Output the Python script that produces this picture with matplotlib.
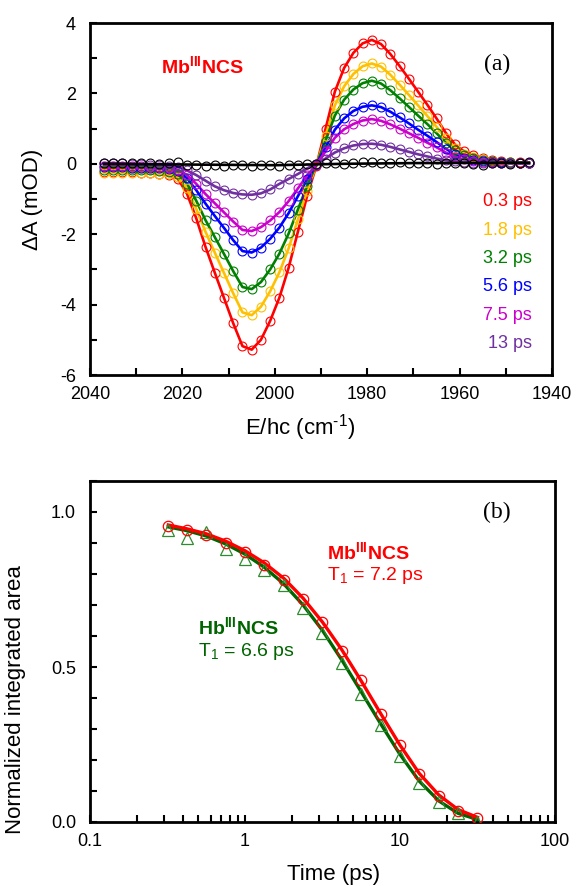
import matplotlib
matplotlib.use('Agg')
import matplotlib.pyplot as plt
from matplotlib.ticker import MultipleLocator, FixedLocator, FixedFormatter, NullFormatter, LogLocator

plt.rcParams['font.family'] = ['Liberation Sans', 'DejaVu Sans']
plt.rcParams['mathtext.fontset'] = 'custom'
plt.rcParams['mathtext.rm'] = 'Liberation Sans'
plt.rcParams['mathtext.it'] = 'Liberation Sans:italic'
plt.rcParams['mathtext.bf'] = 'Liberation Sans:bold'
plt.rcParams['axes.unicode_minus'] = False

# ---------------- Panel (a) data ----------------
wavenumber = [2037, 2035, 2033, 2031, 2029, 2027, 2025, 2023, 2021, 2019, 2017, 2015,
              2013, 2011, 2009, 2007, 2005, 2003, 2001, 1999, 1997, 1995, 1993, 1991,
              1989, 1987, 1985, 1983, 1981, 1979, 1977, 1975, 1973, 1971, 1969, 1967,
              1965, 1963, 1961, 1959, 1957, 1955, 1953, 1951, 1949, 1947, 1945]

dA_0p3 = [-0.22, -0.22, -0.23, -0.24, -0.25, -0.27, -0.29, -0.32, -0.42, -0.85, -1.55, -2.36,
          -3.09, -3.81, -4.53, -5.18, -5.28, -5.00, -4.46, -3.80, -2.95, -1.93, -0.91, -0.05,
          1.00, 2.05, 2.72, 3.15, 3.42, 3.52, 3.40, 3.12, 2.78, 2.42, 2.05, 1.68,
          1.29, 0.88, 0.55, 0.35, 0.24, 0.16, 0.11, 0.07, 0.05, 0.04, 0.03]
dA_1p8 = [-0.25, -0.25, -0.25, -0.25, -0.26, -0.27, -0.28, -0.30, -0.38, -0.70, -1.28, -1.93,
          -2.52, -3.10, -3.68, -4.22, -4.30, -4.06, -3.62, -3.08, -2.40, -1.58, -0.76, -0.04,
          0.80, 1.66, 2.20, 2.55, 2.77, 2.85, 2.76, 2.53, 2.25, 1.96, 1.66, 1.36,
          1.05, 0.72, 0.45, 0.29, 0.20, 0.13, 0.09, 0.06, 0.04, 0.03, 0.03]
dA_3p2 = [-0.17, -0.17, -0.17, -0.18, -0.18, -0.19, -0.20, -0.22, -0.29, -0.56, -1.05, -1.60,
          -2.08, -2.56, -3.05, -3.50, -3.56, -3.36, -3.00, -2.55, -1.98, -1.30, -0.62, -0.03,
          0.66, 1.37, 1.82, 2.11, 2.29, 2.36, 2.28, 2.09, 1.86, 1.62, 1.37, 1.13,
          0.87, 0.60, 0.38, 0.24, 0.16, 0.11, 0.07, 0.05, 0.04, 0.03, 0.02]
dA_5p6 = [-0.10, -0.10, -0.10, -0.11, -0.11, -0.12, -0.13, -0.15, -0.21, -0.41, -0.75, -1.13,
          -1.48, -1.82, -2.17, -2.48, -2.52, -2.38, -2.13, -1.81, -1.40, -0.92, -0.44, -0.02,
          0.47, 0.97, 1.29, 1.50, 1.62, 1.66, 1.61, 1.48, 1.32, 1.15, 0.97, 0.80,
          0.62, 0.43, 0.27, 0.17, 0.11, 0.08, 0.05, 0.04, 0.03, 0.02, 0.02]
dA_7p5 = [-0.06, -0.06, -0.06, -0.07, -0.07, -0.08, -0.10, -0.12, -0.17, -0.32, -0.57, -0.86,
          -1.12, -1.38, -1.64, -1.88, -1.91, -1.80, -1.61, -1.37, -1.06, -0.70, -0.33, -0.02,
          0.36, 0.74, 0.98, 1.13, 1.23, 1.27, 1.22, 1.12, 1.00, 0.87, 0.74, 0.60,
          0.47, 0.32, 0.20, 0.13, 0.09, 0.06, 0.04, 0.03, 0.02, 0.02, 0.01]
dA_13 = [0.02, 0.02, 0.01, 0.00, -0.01, -0.02, -0.04, -0.06, -0.09, -0.19, -0.32, -0.48,
         -0.64, -0.75, -0.83, -0.87, -0.88, -0.84, -0.73, -0.57, -0.43, -0.29, -0.13, 0.00,
         0.15, 0.32, 0.44, 0.52, 0.56, 0.57, 0.54, 0.48, 0.41, 0.34, 0.27, 0.21,
         0.15, 0.10, 0.07, 0.05, 0.03, 0.02, 0.02, 0.01, 0.01, 0.01, 0.01]
dA_late = [0.03, 0.03, 0.02, 0.03, 0.02, 0.01, 0.00, 0.02, 0.04, -0.02, -0.04, -0.05,
           -0.03, -0.06, -0.03, -0.04, -0.06, -0.04, -0.02, -0.05, -0.03, -0.02, 0.00, 0.00,
           0.03, 0.01, -0.01, 0.02, 0.04, 0.05, 0.03, 0.02, 0.04, 0.01, 0.03, 0.02,
           0.00, 0.01, 0.03, 0.02, 0.00, -0.02, 0.03, 0.02, 0.00, 0.03, 0.04]
late_fit_wn = [2037, 2020, 2000, 1985, 1970, 1945]
late_fit = [0.00, -0.02, -0.04, 0.00, 0.02, 0.03]

delay_labels = ['0.3 ps', '1.8 ps', '3.2 ps', '5.6 ps', '7.5 ps', '13 ps']
delay_colors = ['#FF0000', '#FFC000', '#008000', '#0000FF', '#CC00CC', '#7030A0']
spectra = [dA_0p3, dA_1p8, dA_3p2, dA_5p6, dA_7p5, dA_13]

# ---------------- Panel (b) data ----------------
time_ps = [0.32, 0.42, 0.56, 0.75, 1.0, 1.33, 1.78, 2.37, 3.16, 4.22, 5.62, 7.5,
           10.0, 13.3, 17.8, 23.7, 31.6]
mb_area = [0.955, 0.943, 0.926, 0.900, 0.870, 0.830, 0.780, 0.720, 0.645, 0.553, 0.458, 0.348,
           0.247, 0.154, 0.084, 0.036, 0.014]
hb_area = [0.941, 0.915, 0.936, 0.882, 0.848, 0.813, 0.765, 0.690, 0.610, 0.514, 0.412, 0.314,
           0.212, 0.126, 0.065, 0.028, 0.000]
mb_fit = [0.958, 0.946, 0.930, 0.906, 0.875, 0.836, 0.786, 0.722, 0.645, 0.555, 0.455, 0.350,
          0.248, 0.157, 0.087, 0.040, 0.015]
hb_fit = [0.952, 0.940, 0.923, 0.897, 0.864, 0.822, 0.768, 0.700, 0.618, 0.522, 0.420, 0.317,
          0.218, 0.132, 0.068, 0.028, 0.008]

W, H = 576, 886
fig = plt.figure(figsize=(W / 100, H / 100), dpi=100)

def frac(l, t, r, b):
    return [l / W, 1 - b / H, (r - l) / W, (b - t) / H]

# ---------------- Panel (a) ----------------
ax = fig.add_axes(frac(90, 23, 552, 375))
for vals, col in zip(spectra, delay_colors):
    ax.plot(wavenumber, vals, '-', color=col, lw=1.9, zorder=2)
    ax.plot(wavenumber, vals, 'o', mfc='none', mec=col, ms=6.4, mew=0.8, zorder=3)
ax.plot(late_fit_wn, late_fit, '-', color='black', lw=1.9, zorder=4)
ax.plot(wavenumber, dA_late, 'o', mfc='none', mec='black', ms=6.4, mew=0.8, zorder=4)

ax.set_xlim(2040, 1940)
ax.set_ylim(-6, 4)
ax.xaxis.set_major_locator(MultipleLocator(20))
ax.xaxis.set_minor_locator(MultipleLocator(10))
ax.yaxis.set_major_locator(MultipleLocator(2))
ax.yaxis.set_minor_locator(MultipleLocator(1))
ax.tick_params(which='both', direction='in', length=5, width=1.5, labelsize=13)
ax.tick_params(axis='x', pad=8)
ax.tick_params(axis='y', pad=10)
for s in ax.spines.values():
    s.set_linewidth(2)
ax.set_xlabel(r'E/hc (cm$^{\text{-}1}$)', fontsize=16)
ax.xaxis.set_label_coords(0.455, -0.15)
ax.xaxis.label.set_va('center')
ax.set_ylabel('\u0394A (mOD)', fontsize=16)
ax.yaxis.set_label_coords(-0.125, 0.5)
ax.yaxis.label.set_va('center')

ax.text(0.154, 0.878, 'Mb$^{\\mathbf{III}}$NCS', transform=ax.transAxes, color='#FF0000',
        fontsize=14, fontweight='bold', ha='left', va='center')
ax.text(0.881, 0.881, '(a)', transform=ax.transAxes, fontsize=17,
        family='Liberation Serif', ha='center', va='center')
for i, (lab, col) in enumerate(zip(delay_labels, delay_colors)):
    ax.text(0.957, 0.492 - i * 0.0804, lab, transform=ax.transAxes, color=col,
            fontsize=13, ha='right', va='center')

# ---------------- Panel (b) ----------------
bx = fig.add_axes(frac(90, 481, 555, 822))
bx.plot(time_ps, hb_fit, '-', color='#006400', lw=2.4, zorder=2)
bx.plot(time_ps, mb_fit, '-', color='#FF0000', lw=2.4, zorder=3)
bx.plot(time_ps, hb_area, '^', mfc='none', mec='#2E8B2E', ms=8, mew=0.9, zorder=4)
bx.plot(time_ps, mb_area, 'o', mfc='none', mec='#FF0000', ms=7.5, mew=0.9, zorder=5)
bx.set_xscale('log')
bx.set_xlim(0.1, 100)
bx.set_ylim(0, 1.1)
bx.xaxis.set_major_locator(FixedLocator([0.1, 1, 10, 100]))
bx.xaxis.set_major_formatter(FixedFormatter(['0.1', '1', '10', '100']))
bx.xaxis.set_minor_locator(LogLocator(base=10, subs=[2, 3, 4, 5, 6, 7, 8, 9]))
bx.xaxis.set_minor_formatter(NullFormatter())
bx.yaxis.set_major_locator(FixedLocator([0.0, 0.5, 1.0]))
bx.yaxis.set_major_formatter(FixedFormatter(['0.0', '0.5', '1.0']))
bx.yaxis.set_minor_locator(MultipleLocator(0.1))
bx.tick_params(which='both', direction='in', length=5, width=1.5, labelsize=13)
bx.tick_params(axis='x', pad=8)
bx.tick_params(axis='y', pad=10)
for s in bx.spines.values():
    s.set_linewidth(2)
bx.set_xlabel('Time (ps)', fontsize=16)
bx.xaxis.set_label_coords(0.523, -0.155)
bx.xaxis.label.set_va('center')
bx.set_ylabel('Normalized integrated area', fontsize=16)
bx.yaxis.set_label_coords(-0.161, 0.36)
bx.yaxis.label.set_va('center')

bx.text(0.875, 0.909, '(b)', transform=bx.transAxes, fontsize=17,
        family='Liberation Serif', ha='center', va='center')
bx.text(0.51, 0.792, 'Mb$^{\\mathbf{III}}$NCS', transform=bx.transAxes, color='#FF0000',
        fontsize=14, fontweight='bold', ha='left', va='center')
bx.text(0.51, 0.724, 'T$_{1}$ = 7.2 ps', transform=bx.transAxes, color='#FF0000',
        fontsize=14, ha='left', va='center')
bx.text(0.232, 0.572, 'Hb$^{\\mathbf{III}}$NCS', transform=bx.transAxes, color='#006400',
        fontsize=14, fontweight='bold', ha='left', va='center')
bx.text(0.232, 0.499, 'T$_{1}$ = 6.6 ps', transform=bx.transAxes, color='#006400',
        fontsize=14, ha='left', va='center')

fig.savefig('out.png', dpi=100)
